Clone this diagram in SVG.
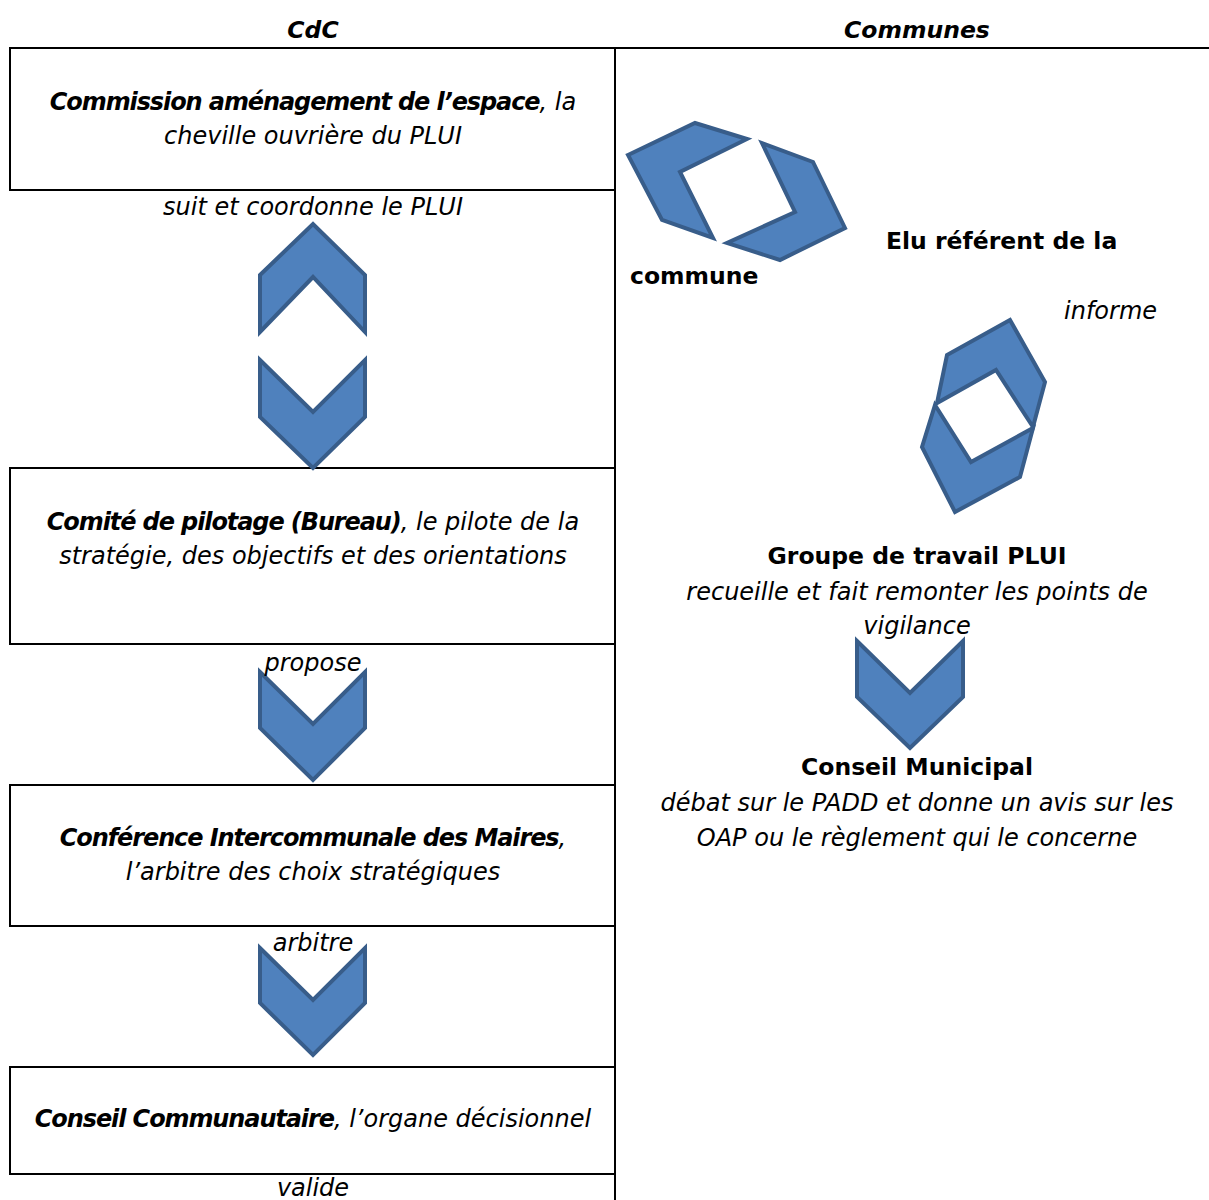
<svg xmlns="http://www.w3.org/2000/svg" width="1209" height="1200" viewBox="0 0 1209 1200">
<style>
.t{font-family:"DejaVu Sans","Liberation Sans",sans-serif;font-size:24px;fill:#000}
.i{font-style:italic}
.b{font-weight:bold;font-size:23.5px}
.ib{font-weight:bold;letter-spacing:-1.1px}
.c{text-anchor:middle}
.ln{stroke:#000;stroke-width:2;fill:none}
.sh{fill:#4F81BD;stroke:#385D8A;stroke-width:4;stroke-linejoin:miter}
</style>
<rect width="1209" height="1200" fill="#fff"/>
<g id="frame">
<line class="ln" x1="10" y1="48" x2="1209" y2="48"/>
<line class="ln" x1="615" y1="48" x2="615" y2="1200"/>
</g>
<text class="t i b c" x="313" y="38">CdC</text>
<text class="t i b c" x="917" y="38">Communes</text>
<g id="n1">
<rect class="ln" x="10" y="48" width="605" height="142"/>
<text class="t i c" x="313" y="110"><tspan class="ib">Commission aménagement de l’espace</tspan>, la</text>
<text class="t i c" x="313" y="144">cheville ouvrière du PLUI</text>
</g>
<g id="n2">
<rect class="ln" x="10" y="468" width="605" height="176"/>
<text class="t i c" x="313" y="530"><tspan class="ib">Comité de pilotage (Bureau)</tspan>, le pilote de la</text>
<text class="t i c" x="313" y="564">stratégie, des objectifs et des orientations</text>
</g>
<g id="n3">
<rect class="ln" x="10" y="785" width="605" height="141"/>
<text class="t i c" x="313" y="846"><tspan class="ib">Conférence Intercommunale des Maires</tspan>,</text>
<text class="t i c" x="313" y="880">l’arbitre des choix stratégiques</text>
</g>
<g id="n4">
<rect class="ln" x="10" y="1067" width="605" height="107"/>
<text class="t i c" x="313" y="1127"><tspan class="ib">Conseil Communautaire</tspan>, l’organe décisionnel</text>
</g>
<g id="n5">
<text class="t b" x="886" y="249">Elu référent de la</text>
<text class="t b" x="630" y="284">commune</text>
</g>
<g id="n6">
<text class="t b c" x="917" y="564">Groupe de travail PLUI</text>
<text class="t i c" x="917" y="600">recueille et fait remonter les points de</text>
<text class="t i c" x="917" y="634">vigilance</text>
</g>
<g id="n7">
<text class="t b c" x="917" y="775">Conseil Municipal</text>
<text class="t i c" x="917" y="811">débat sur le PADD et donne un avis sur les</text>
<text class="t i c" x="917" y="846">OAP ou le règlement qui le concerne</text>
</g>
<g id="connectors">
<polygon class="sh" points="260,275 313,224 365,275 365,332 313,277 260,332"/>
<polygon class="sh" points="260,360 313,412 365,360 365,417 313,468 260,417"/>
<polygon class="sh" points="260,672 313,724 365,672 365,728 313,780 260,728"/>
<polygon class="sh" points="260,948 313,1000 365,948 365,1003 313,1055 260,1003"/>
<polygon class="sh" points="857,641 910,693 963,641 963,697 910,748 857,697"/>
<polygon class="sh" points="628,155 695,123 747,139 680,172 713,238 662,220"/>
<polygon class="sh" points="762,143 813,162 845,228 780,260 727,243 795,212"/>
<polygon class="sh" points="1010,320 1045,382 1033,427 996,370 937,403 947,355"/>
<polygon class="sh" points="935,405 971,462 1033,428 1020,477 955,512 922,447"/>
<text class="t i c" x="313" y="215">suit et coordonne le PLUI</text>
<text class="t i c" x="313" y="671">propose</text>
<text class="t i c" x="313" y="951">arbitre</text>
<text class="t i c" x="313" y="1196">valide</text>
<text class="t i" x="1064" y="319">informe</text>
</g>
</svg>
